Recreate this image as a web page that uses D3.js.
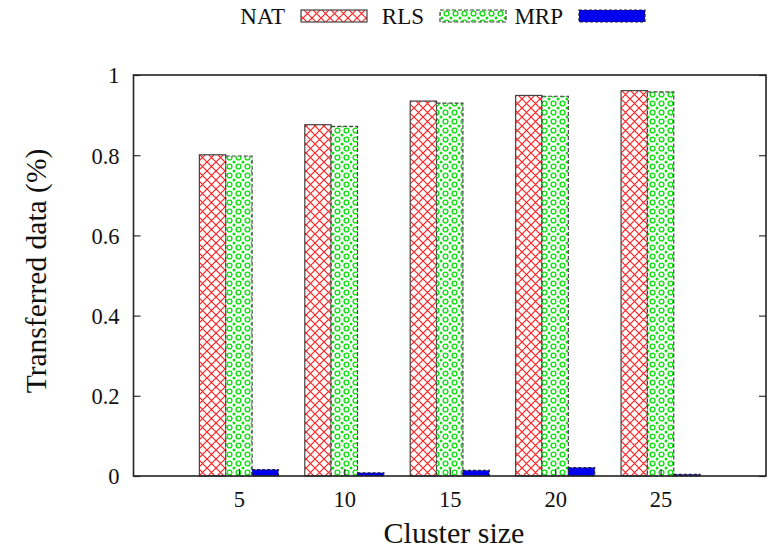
<!DOCTYPE html>
<html>
<head>
<meta charset="utf-8">
<script src="https://cdn.jsdelivr.net/npm/d3@7"></script>
<style>
  body { margin: 0; background: #fff; }
</style>
</head>
<body>
<div id="div_barchart"></div>
<script>
// data
var clusterSizes = [5, 10, 15, 20, 25];
var seriesNames = ["NAT", "RLS", "MRP"];
var natValues = [0.801, 0.876, 0.935, 0.949, 0.961];
var rlsValues = [0.798, 0.872, 0.930, 0.947, 0.958];
var mrpValues = [0.016, 0.008, 0.014, 0.021, 0.004];
var yTicks = [0, 0.2, 0.4, 0.6, 0.8, 1];

var width_chart = 773;
var height_chart = 549;
var margin = {left: 133.5, right: 7, top: 75, bottom: 73};
var serif = "'Liberation Serif', 'Times New Roman', Times, serif";

var svg = d3.select('#div_barchart').append("svg")
    .attr("width", width_chart)
    .attr("height", height_chart);

var defs = svg.append("defs");

// red crosshatch
var pRed = defs.append("pattern")
    .attr("id", "hatchRed")
    .attr("patternUnits", "userSpaceOnUse")
    .attr("width", 9).attr("height", 9);
pRed.append("rect").attr("width", 9).attr("height", 9).attr("fill", "#fff");
pRed.append("path").attr("d", "M0,0L9,9M9,0L0,9")
    .attr("stroke", "#ff2020").attr("stroke-width", 1.2);

// green ring/dot pattern
var pGreen = defs.append("pattern")
    .attr("id", "dotGreen")
    .attr("patternUnits", "userSpaceOnUse")
    .attr("width", 9).attr("height", 9);
pGreen.append("rect").attr("width", 9).attr("height", 9).attr("fill", "#fff");
pGreen.append("circle").attr("cx", 4.5).attr("cy", 4.5).attr("r", 2.4)
    .attr("fill", "none").attr("stroke", "#10e010").attr("stroke-width", 1.4);
[[0, 0], [9, 0], [0, 9], [9, 9]].forEach(function (p) {
    pGreen.append("circle").attr("cx", p[0]).attr("cy", p[1]).attr("r", 1.5)
        .attr("fill", "#10e010");
});

var seriesStyle = {
    NAT: {fill: "url(#hatchRed)", stroke: "#444", dash: null},
    RLS: {fill: "url(#dotGreen)", stroke: "#444", dash: "4,2"},
    MRP: {fill: "#0000ee", stroke: "#223", dash: "3,2"}
};

var series = seriesNames.map(function (name, i) {
    var vals = [natValues, rlsValues, mrpValues][i];
    return {
        id: name,
        index: i,
        values: clusterSizes.map(function (c, j) {
            return {pos: j + 1, value: vals[j]};
        })
    };
});

var x = d3.scaleLinear().domain([0, 6]).range([margin.left, width_chart - margin.right]),
    y = d3.scaleLinear().domain([0, 1]).range([height_chart - margin.bottom, margin.top]);

var boxWidth = 0.25;

var g = svg.append("g");

var group = g.selectAll(".series")
    .data(series)
    .enter().append("g")
    .attr("class", "series");

group.selectAll("rect")
    .data(function (d) {
        return d.values.map(function (v) { return {id: d.id, index: d.index, pos: v.pos, value: v.value}; });
    })
    .enter().append("rect")
    .attr("x", function (d) { return x(d.pos + (d.index - 1.5) * boxWidth); })
    .attr("width", function (d) { return x(boxWidth) - x(0); })
    .attr("y", function (d) { return y(d.value); })
    .attr("height", function (d) { return y(0) - y(d.value); })
    .attr("fill", function (d) { return seriesStyle[d.id].fill; })
    .attr("stroke", function (d) { return seriesStyle[d.id].stroke; })
    .attr("stroke-width", 1.2)
    .attr("stroke-dasharray", function (d) { return seriesStyle[d.id].dash; });

// axes
var yAxis = g.append("g")
    .attr("transform", "translate(" + margin.left + ",0)")
    .call(d3.axisLeft(y).tickValues(yTicks).tickSize(-7).tickPadding(14)
        .tickFormat(d3.format("~g")));

var yAxisR = g.append("g")
    .attr("transform", "translate(" + (width_chart - margin.right) + ",0)")
    .call(d3.axisRight(y).tickValues(yTicks).tickSize(-7).tickFormat(""));

var xAxis = g.append("g")
    .attr("transform", "translate(0," + y(0) + ")")
    .call(d3.axisBottom(x).tickValues([1, 2, 3, 4, 5]).tickSize(-7).tickPadding(15)
        .tickFormat(function (d, i) { return clusterSizes[i]; }));

g.selectAll(".tick text")
    .attr("font-family", null).attr("font-size", null)
    .style("font-family", serif)
    .style("font-size", "22.5px")
    .style("fill", "#111");
yAxis.selectAll("text").attr("dy", "0.35em");

g.selectAll(".domain").remove();
g.selectAll(".tick line").attr("stroke", "#333").attr("stroke-width", 1.2);

// frame
g.append("rect")
    .attr("x", x(0)).attr("y", y(1))
    .attr("width", x(6) - x(0)).attr("height", y(0) - y(1))
    .attr("fill", "none")
    .attr("stroke", "#222")
    .attr("stroke-width", 1.6);

// axis titles
svg.append("text")
    .attr("transform", "translate(46," + 271 + ") rotate(-90)")
    .attr("text-anchor", "middle")
    .style("font-family", serif)
    .style("font-size", "29.5px")
    .style("fill", "#111")
    .text("Transferred data (%)");

svg.append("text")
    .attr("x", 454)
    .attr("y", 543)
    .attr("text-anchor", "middle")
    .style("font-family", serif)
    .style("font-size", "30px")
    .style("fill", "#111")
    .text("Cluster size");

// legend
var legend = svg.append("g")
    .selectAll(".key")
    .data(series)
    .enter().append("g")
    .attr("class", "key")
    .attr("transform", function (d, i) { return "translate(" + (285 + i * 139) + ",0)"; });

legend.append("text")
    .attr("x", 0)
    .attr("y", 16)
    .attr("dy", "0.35em")
    .attr("text-anchor", "end")
    .style("font-family", serif)
    .style("font-size", "23px")
    .style("fill", "#111")
    .text(function (d) { return d.id; });

legend.append("rect")
    .attr("x", 16)
    .attr("y", 10)
    .attr("width", 66)
    .attr("height", 12)
    .attr("fill", function (d) { return seriesStyle[d.id].fill; })
    .attr("stroke", function (d) { return seriesStyle[d.id].stroke; })
    .attr("stroke-width", 1.2)
    .attr("stroke-dasharray", function (d) { return seriesStyle[d.id].dash; });
</script>
</body>
</html>
